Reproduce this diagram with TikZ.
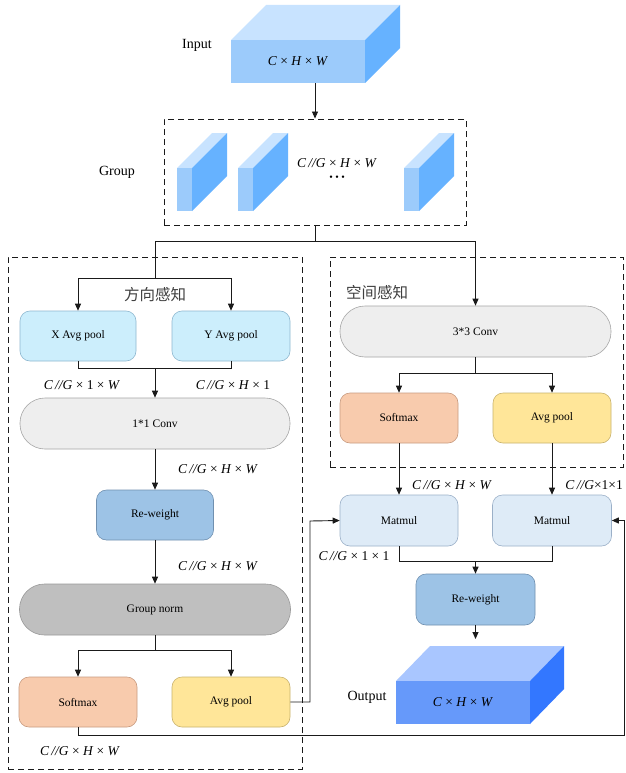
\documentclass[tikz,border=0pt]{standalone}
\usepackage{fontspec}
\setmainfont{Liberation Serif}
\newfontfamily\cjk{Noto Sans CJK SC}
\usetikzlibrary{arrows.meta}
\definecolor{cubeF}{HTML}{9CCBFB}
\definecolor{cubeT}{HTML}{C8E3FF}
\definecolor{cubeS}{HTML}{66B2FF}
\definecolor{outF}{HTML}{6699FA}
\definecolor{outT}{HTML}{A9C6FF}
\definecolor{outS}{HTML}{3377FF}
\definecolor{apF}{HTML}{CCEEFC}
\definecolor{apD}{HTML}{8FB8D0}
\definecolor{cvF}{HTML}{EEEEEE}
\definecolor{cvD}{HTML}{A6A6A6}
\definecolor{rwF}{HTML}{9DC3E6}
\definecolor{rwD}{HTML}{7090B0}
\definecolor{gnF}{HTML}{BFBFBF}
\definecolor{gnD}{HTML}{999999}
\definecolor{smF}{HTML}{F8CBAD}
\definecolor{smD}{HTML}{C89B80}
\definecolor{avF}{HTML}{FFE699}
\definecolor{avD}{HTML}{C9B36E}
\definecolor{mmF}{HTML}{DEEBF7}
\definecolor{mmD}{HTML}{9BB0C8}
\definecolor{ln}{HTML}{1A1A1A}
\tikzset{
  x=1pt, y=-1pt,
  boxstyle/.style={rectangle, rounded corners=10pt, minimum width=118pt, minimum height=50pt, inner sep=0pt, font=\fontsize{11.5}{13}\selectfont, line width=0.6pt},
  pill/.style={rectangle, rounded corners=25pt, minimum width=271pt, minimum height=51pt, inner sep=0pt, font=\fontsize{11.5}{13}\selectfont, fill=cvF, draw=cvD, line width=0.6pt},
  conn/.style={draw=ln, line width=0.9pt},
  arr/.style={conn, -{Triangle[length=7pt,width=6pt]}},
  dbox/.style={draw=ln, dashed, dash pattern=on 6pt off 4pt, line width=0.9pt, rectangle, inner sep=0pt},
  dimlab/.style={font=\fontsize{13.5}{15}\selectfont, inner sep=0pt},
  biglab/.style={font=\fontsize{14}{16}\selectfont, inner sep=0pt},
  cnlab/.style={font=\cjk\fontsize{15.5}{17}\selectfont, text=black!75, inner sep=0pt},
}
\newcommand{\dHW}{\textit{C}\,\textit{//G} × \textit{H} × \textit{W}}
\begin{document}
\begin{tikzpicture}
\useasboundingbox (0,0) rectangle (625,773);
\fill[white] (0,0) rectangle (625,773);

% Input cube
\fill[cubeT] (231,40) -- (365,40) -- (400,5) -- (266,5) -- cycle;
\fill[cubeS] (365,40) -- (400,5) -- (400,48) -- (365,83) -- cycle;
\node[fill=cubeF, minimum width=134pt, minimum height=43pt, inner sep=0pt, font=\fontsize{13.5}{15}\selectfont] (inF) at (298,61.5) {\textit{C} × \textit{H} × \textit{W}};
\node[biglab] (inlab) at (197,45) {Input};

% Group box
\node[dbox, minimum width=302pt, minimum height=106pt] (grp) at (315,172) {};
\node[biglab] (grplab) at (117,172) {Group};
\foreach \a in {177,238,404}{
  \fill[cubeT] (\a,168) -- (\a+15,168) -- (\a+50,133) -- (\a+35,133) -- cycle;
  \fill[cubeS] (\a+15,168) -- (\a+50,133) -- (\a+50,176) -- (\a+15,211) -- cycle;
  \fill[cubeF] (\a,168) rectangle (\a+15,211);
}
\node[dimlab] (glab) at (337,163) {\dHW};
\node[inner sep=0pt, font=\fontsize{10}{12}\selectfont] (dots) at (337,178) {• • •};

\draw[arr] (inF.south -| grp.north) -- (grp.north);

% dashed regions
\node[dbox, minimum width=294pt, minimum height=512pt] (lbox) at (155,513) {};
\node[dbox, minimum width=293pt, minimum height=210pt] (rbox) at (476.5,362) {};
\node[cnlab] (dirlab) at (155,295) {方向感知};
\node[cnlab] (spalab) at (377,293) {空间感知};

% left branch nodes
\node[boxstyle, fill=apF, draw=apD, minimum width=116pt] (xap) at (78,336) {X Avg pool};
\node[boxstyle, fill=apF, draw=apD] (yap) at (231,336) {Y Avg pool};
\node[pill, minimum width=270pt] (conv1) at (155,423.5) {1*1 Conv};
\node[boxstyle, fill=rwF, draw=rwD, minimum width=117pt] (rw1) at (155,515) {Re-weight};
\node[pill, fill=gnF, draw=gnD] (gn) at (155,609.5) {Group norm};
\node[boxstyle, fill=smF, draw=smD] (sm1) at (78,702) {Softmax};
\node[boxstyle, fill=avF, draw=avD] (ap1) at (231,702) {Avg pool};

% right branch nodes
\node[pill] (conv3) at (475.5,331.5) {3*3 Conv};
\node[boxstyle, fill=smF, draw=smD] (sm2) at (399,418) {Softmax};
\node[boxstyle, fill=avF, draw=avD] (ap2) at (552,418) {Avg pool};
\node[boxstyle, fill=mmF, draw=mmD, minimum height=51pt] (mm1) at (399,520.5) {Matmul};
\node[boxstyle, fill=mmF, draw=mmD, minimum width=119pt, minimum height=51pt] (mm2) at (552,520.5) {Matmul};
\node[boxstyle, fill=rwF, draw=rwD, minimum width=119pt, minimum height=51pt] (rw2) at (475.5,599.5) {Re-weight};

% Output cube
\fill[outT] (396,681) -- (530,681) -- (564,646) -- (430,646) -- cycle;
\fill[outS] (530,681) -- (564,646) -- (564,689) -- (530,724) -- cycle;
\node[fill=outF, minimum width=134pt, minimum height=43pt, inner sep=0pt, font=\fontsize{13.5}{15}\selectfont] (outFc) at (463,702.5) {\textit{C} × \textit{H} × \textit{W}};
\node[biglab] (outlab) at (367,697) {Output};

% split coordinates
\coordinate (s1) at (315,241);
\coordinate (sL) at (155,278);
\coordinate (j1) at (155,368);
\coordinate (j2) at (155,650);
\coordinate (j3) at (475.5,373);
\coordinate (j4) at (475.5,561);
\coordinate (otop) at (475.5,639);
\coordinate (c1) at (310,521);
\coordinate (c2) at (624,735);

\draw[conn] (grp.south) -- (s1);
\draw[arr] (s1) -| (conv3.north);
\draw[conn] (s1) -| (sL);
\draw[arr] (sL) -| (xap.north);
\draw[arr] (sL) -| (yap.north);
\draw[conn] (xap.south) |- (j1);
\draw[conn] (yap.south) |- (j1);
\draw[arr] (j1) -- (conv1.north);
\draw[arr] (conv1.south) -- (rw1.north);
\draw[arr] (rw1.south) -- (gn.north);
\draw[conn] (gn.south) -- (j2);
\draw[arr] (j2) -| (sm1.north);
\draw[arr] (j2) -| (ap1.north);

\draw[conn] (conv3.south) -- (j3);
\draw[arr] (j3) -| (sm2.north);
\draw[arr] (j3) -| (ap2.north);
\draw[arr] (sm2.south) -- (mm1.north);
\draw[arr] (ap2.south) -- (mm2.north);
\draw[conn] (mm1.south) |- (j4);
\draw[conn] (mm2.south) |- (j4);
\draw[arr] (j4) -- (rw2.north);
\draw[arr] (rw2.south) -- (otop);

\draw[arr] (ap1.east) -| (c1) -- (mm1.west);
\draw[arr] (sm1.south) |- (c2) |- (mm2.east);

% dimension labels
\node[dimlab] (l1) at (82,385) {\textit{C}\,\textit{//G} × 1 × \textit{W}};
\node[dimlab] (l2) at (233,385) {\textit{C}\,\textit{//G} × \textit{H} × 1};
\node[dimlab] (l3) at (218,469) {\dHW};
\node[dimlab] (l4) at (218,566) {\dHW};
\node[dimlab] (l5) at (80,751) {\dHW};
\node[dimlab] (l6) at (452,485) {\dHW};
\node[dimlab, anchor=east] (l7) at (623,485) {\textit{C}\,\textit{//G}×1×1};
\node[dimlab] (l8) at (354,556) {\textit{C}\,\textit{//G} × 1 × 1};
\end{tikzpicture}
\end{document}
